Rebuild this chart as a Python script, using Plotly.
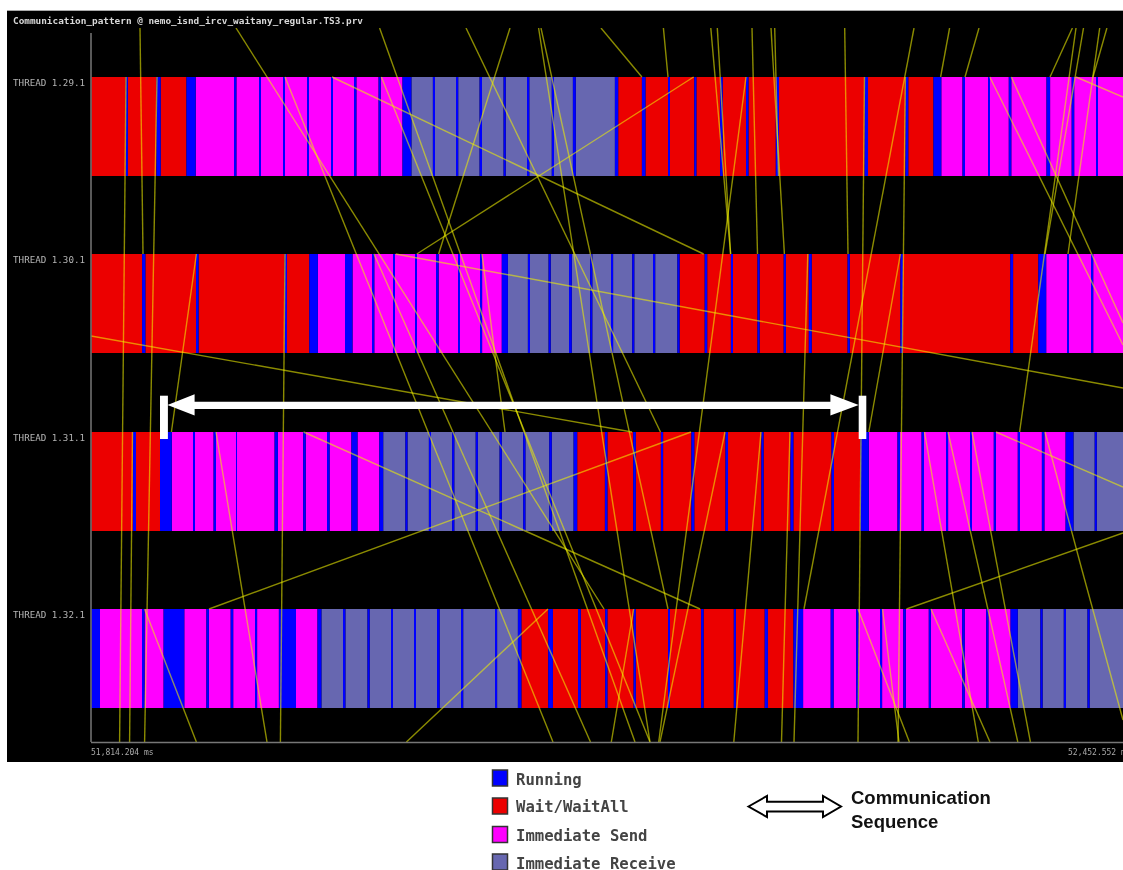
import plotly.graph_objects as go

TITLE = "Communication_pattern @ nemo_isnd_ircv_waitany_regular.TS3.prv"
THREADS = ["THREAD 1.29.1", "THREAD 1.30.1", "THREAD 1.31.1", "THREAD 1.32.1"]
ROW_CENTER = [126.5, 303.5, 481.5, 658.5]
ROW_THICK = 99
LABEL_Y = [82.5, 259.5, 437.5, 614.5]
T_MIN, T_MAX = 91, 1123
Y_TOP, Y_BOTTOM = 28, 742
TIME_START_LABEL = "51,814.204 ms"
TIME_END_LABEL = "52,452.552 ms"

STATE_NAMES = {"R": "Running", "W": "Wait/WaitAll", "S": "Immediate Send", "I": "Immediate Receive"}
STATE_COLORS = {"R": "#0000ff", "W": "#ec0000", "S": "#ff00ff", "I": "#6767b0"}

T29_START = [91.4, 125.7, 127.9, 156.4, 160.7, 186.4, 195.7, 234, 236.4, 259, 260.7, 283.2, 285, 307, 309, 331, 333,
             354.6, 356.4, 378.6, 380.7, 402.5, 411.4, 432.9, 435, 456.4, 458.2, 479.6, 482, 503.6, 505.7, 527, 529.3,
             551.8, 554, 572.9, 575.8, 614.9, 618.2, 641.9, 645.5, 668, 669.9, 694.3, 696.4, 720.1, 722.7, 746, 748.5,
             775.8, 779, 864.5, 868, 905.4, 908.3, 933.4, 941.3, 962.5, 965, 988, 989.8, 1008.8, 1011.3, 1046.5,
             1050.1, 1071.7, 1074.2, 1096, 1097.9]
T29_STATE = "WR" * 3 + "SR" * 8 + "IR" * 8 + "WR" * 9 + "SR" * 6 + "S"

T30_START = [91.4, 142.1, 145.4, 196, 198.6, 284.6, 287, 309.3, 317.9, 345, 352.5, 372.5, 374.3, 393.2, 395, 415.4,
             416.8, 436.8, 438.6, 458.2, 460, 480, 482.1, 501.8, 507.9, 527.9, 530, 548.6, 550.7, 569, 571.8, 590.2,
             592.3, 611, 613.1, 632.2, 634.3, 653, 655.2, 677.4, 679.6, 704.7, 707.2, 730.9, 733, 757.5, 759.6, 783.7,
             785.9, 808.8, 811.7, 847.6, 849.8, 900.4, 902.9, 1010.3, 1013.1, 1038.3, 1046.2, 1067.4, 1068.8, 1091.8,
             1093.2]
T30_STATE = "WR" * 4 + "SR" * 8 + "IR" * 8 + "WR" * 9 + "SR" * 2 + "S"

T31_START = [91.4, 132.9, 136, 160, 171.8, 193.2, 194.3, 213.6, 216, 236, 237, 274.6, 277.9, 303.2, 305.7, 327.9, 329.6,
             351.4, 357.5, 379.3, 383.2, 405.4, 407.5, 428.9, 431, 452.1, 454.3, 475.7, 477.9, 499.6, 501.8, 523.2,
             525.4, 549.3, 551.8, 573.6, 577.2, 604.9, 607.4, 633.2, 635.8, 660.9, 663.1, 691.4, 694.3, 725.5, 728,
             761.4, 763.6, 790.5, 793.4, 831.5, 834, 860.2, 868.8, 897.5, 900, 921.6, 924, 946, 948.1, 970, 971.8,
             993.8, 995.9, 1017.8, 1020, 1041.9, 1044.4, 1065.6, 1073.5, 1094.7, 1096.8]
T31_STATE = "WR" * 2 + "SR" * 8 + "IR" * 8 + "WR" * 9 + "SR" * 8 + "IR" + "I"

T32_START = [91.4, 100, 142.9, 144.6, 163.6, 184.3, 206.4, 208.9, 230.7, 233.2, 255, 257.1, 278.9, 296, 317.5, 321.4,
             343.9, 345.4, 367.5, 369.6, 391, 392.9, 414.6, 416, 437.9, 439.6, 461.4, 463.2, 495, 497.1, 517.9, 521.4,
             548.2, 552.9, 578, 580.8, 605.2, 607.4, 633.6, 635.8, 668.1, 669.9, 701.1, 703.6, 733.8, 735.9, 764.7,
             767.9, 793.4, 803.1, 830.7, 833.6, 856.2, 858.7, 880.3, 882.1, 903.3, 905.8, 928.8, 930.9, 962.2, 964.7,
             986.2, 988.4, 1010.6, 1017.8, 1040.4, 1042.6, 1063.8, 1066, 1087.5, 1089.6]
T32_STATE = "R" + "SR" * 7 + "IR" * 8 + "WR" * 9 + "SR" * 8 + "IR" * 3 + "I"

MSG_X0 = [140, 126, 157, 132.5, 196.4, 285, 91, 416.8, 332, 236, 209, 144.6, 548, 303.6, 633.6, 882.5, 858, 931, 906.5,
          804, 216, 725, 761, 790, 924.5, 948, 972, 996, 1045, 1082, 395.7, 285, 374, 466, 379.6, 538.6, 541, 510,
          381.4, 482, 746, 710.8, 717.3, 752, 771, 774.7, 844.7, 807.8, 900.4, 864.5, 905.4, 949.6, 979, 989.8,
          1011.3, 1072.4, 1076, 1083.5, 1099.7, 1106.9, 1076, 601, 663.4]
MSG_Y0 = [28, 77, 77, 432, 254, 254, 336, 254, 77, 28, 609, 609, 609, 432, 609, 609, 609, 609, 609,
          609, 432, 432, 432, 432, 432, 432, 432, 432, 432, 570, 254, 77, 254, 28, 28, 28, 28, 28,
          77, 254, 77, 28, 28, 28, 28, 28, 28, 254, 254, 77, 77, 28, 28, 77,
          77, 28, 28, 28, 28, 28, 77, 28, 28]
MSG_X1 = [143, 119.6, 144.6, 129.6, 171.4, 280.4, 632, 693.6, 703.6, 604, 691, 196.4, 406.4, 700, 611.3, 899, 909.4, 990,
          1123, 914, 267, 660, 733.8, 781.5, 978.3, 1017.8, 1030.4, 1123, 1082, 1123, 1123, 553, 590.5, 660.5, 635,
          650, 668, 438.6, 650, 505, 658.7, 730.6, 730.6, 757.5, 784.4, 778.5, 848, 794, 868.8, 858, 898, 940.6, 965,
          1123, 1123, 1050, 1019.6, 1045, 1068, 1093, 1123, 641.9, 668]
MSG_Y1 = [254, 742, 742, 742, 432, 742, 432, 77, 254, 609, 432, 742, 742, 609, 742, 742, 742, 742,
          533, 28, 742, 742, 742, 742, 742, 742, 742, 487, 570, 720, 388, 742, 742, 432, 742,
          742, 609, 254, 742, 432, 742, 254, 254, 254, 254, 176, 254, 742, 432, 742, 742, 77, 77,
          345, 323, 77, 432, 254, 254, 77, 97, 77, 77]

LEGEND_Y = [778, 806, 834.5, 862]
LEGEND_ORDER = ["R", "W", "S", "I"]
SEQUENCE_TEXT = "Communication<br>Sequence"

rows = [(T29_START, T29_STATE), (T30_START, T30_STATE), (T31_START, T31_STATE), (T32_START, T32_STATE)]

fig = go.Figure()

for code in ["I", "S", "W", "R"]:
    ys, xs, bases = [], [], []
    for center, (starts, states) in zip(ROW_CENTER, rows):
        assert len(starts) == len(states)
        ends = starts[1:] + [T_MAX]
        for s, e, st in zip(starts, ends, states):
            if st == code:
                ys.append(center)
                xs.append(e - s)
                bases.append(s)
    fig.add_trace(go.Bar(x=xs, y=ys, base=bases, orientation="h", width=ROW_THICK, name=STATE_NAMES[code],
                         marker=dict(color=STATE_COLORS[code], line=dict(width=0)), showlegend=False,
                         hoverinfo="name"))

for x0, y0, x1, y1 in zip(MSG_X0, MSG_Y0, MSG_X1, MSG_Y1):
    fig.add_trace(go.Scatter(x=[x0, x1], y=[y0, y1], mode="lines", showlegend=False, hoverinfo="skip",
                             line=dict(color="rgba(240,240,0,0.58)", width=1.4)))


def px(v):
    return (v - T_MIN) / (T_MAX - T_MIN)


def py(v):
    return 1 - (v - Y_TOP) / (Y_BOTTOM - Y_TOP)


def paper_path(points, **kw):
    d = "M " + " L ".join(f"{px(a):.5f} {py(b):.5f}" for a, b in points) + " Z"
    return dict(type="path", path=d, xref="paper", yref="paper", **kw)


shapes = [
    dict(type="rect", xref="paper", yref="paper", x0=px(7), x1=px(1123), y0=py(762), y1=py(11), fillcolor="black",
         line=dict(width=0), layer="below"),
    dict(type="line", xref="paper", yref="paper", x0=px(7), x1=px(1123), y0=py(10.5), y1=py(10.5),
         line=dict(color="#aaaaaa", width=1)),
    dict(type="line", xref="paper", yref="paper", x0=px(91), x1=px(91), y0=py(33), y1=py(742),
         line=dict(color="#777777", width=1.5), layer="above"),
    dict(type="line", xref="paper", yref="paper", x0=px(91), x1=px(1123), y0=py(742.5), y1=py(742.5),
         line=dict(color="#777777", width=1.5), layer="above"),
    # white span marking the communication sequence
    paper_path([(160, 395.7), (167.9, 395.7), (167.9, 439), (160, 439)], fillcolor="white", line=dict(width=0)),
    paper_path([(858.7, 395.7), (866.3, 395.7), (866.3, 439), (858.7, 439)], fillcolor="white", line=dict(width=0)),
    paper_path([(167.5, 405), (194.6, 394.3), (194.6, 401.7), (830.4, 401.7), (830.4, 394.3), (858.7, 405),
                (830.4, 415.5), (830.4, 409), (194.6, 409), (194.6, 415.5)], fillcolor="white", line=dict(width=0)),
    # outlined double arrow in the key
    paper_path([(748.5, 806.5), (767, 796), (767, 801.7), (823, 801.7), (823, 796), (841, 806.5), (823, 817),
                (823, 811.5), (767, 811.5), (767, 817)], fillcolor="white", line=dict(color="black", width=2)),
]

annotations = [
    dict(x=px(11), y=py(20.5), xref="paper", yref="paper", text=TITLE, showarrow=False, xanchor="left",
         yanchor="middle", font=dict(family="DejaVu Sans Mono", size=9.4, color="#d8d8d8", weight="bold")),
    dict(x=px(89), y=py(752), xref="paper", yref="paper", text=TIME_START_LABEL, showarrow=False, xanchor="left",
         yanchor="middle", font=dict(family="DejaVu Sans Mono", size=8, color="#aaaaaa")),
    dict(x=px(1066), y=py(752), xref="paper", yref="paper", text=TIME_END_LABEL, showarrow=False, xanchor="left",
         yanchor="middle", font=dict(family="DejaVu Sans Mono", size=8, color="#aaaaaa")),
    dict(x=px(849), y=py(809.5), xref="paper", yref="paper", text=SEQUENCE_TEXT, showarrow=False, xanchor="left",
         yanchor="middle", align="left", font=dict(family="Liberation Sans", size=18.5, color="#111111", weight="bold")),
]

for code, ly in zip(LEGEND_ORDER, LEGEND_Y):
    shapes.append(dict(type="rect", xref="paper", yref="paper", x0=px(492.5), x1=px(507.5), y0=py(ly + 8), y1=py(ly - 8),
                       fillcolor=STATE_COLORS[code], line=dict(color="#333333", width=1.5)))
    annotations.append(dict(x=px(513.5), y=py(ly + 1.5), xref="paper", yref="paper", text=STATE_NAMES[code],
                            showarrow=False, xanchor="left", yanchor="middle",
                            font=dict(family="DejaVu Sans Mono", size=15.6, color="#444444", weight="bold")))

fig.update_layout(
    width=1123, height=870, margin=dict(l=91, r=0, t=28, b=128), barmode="overlay",
    paper_bgcolor="white", plot_bgcolor="black", showlegend=False, shapes=shapes, annotations=annotations,
    xaxis=dict(range=[T_MIN, T_MAX], showgrid=False, zeroline=False, showticklabels=False, ticks=""),
    yaxis=dict(range=[Y_BOTTOM, Y_TOP], showgrid=False, zeroline=False, tickmode="array", tickvals=LABEL_Y,
               ticktext=THREADS, ticks="", ticklabelstandoff=5,
               tickfont=dict(family="DejaVu Sans Mono", size=9.2, color="#b4b4b4")),
)

fig.write_html("out.html", config={"displayModeBar": False},
               post_script="document.body.style.margin='0';document.body.style.overflow='hidden';"
                           "document.body.style.filter='blur(0.5px)';")
